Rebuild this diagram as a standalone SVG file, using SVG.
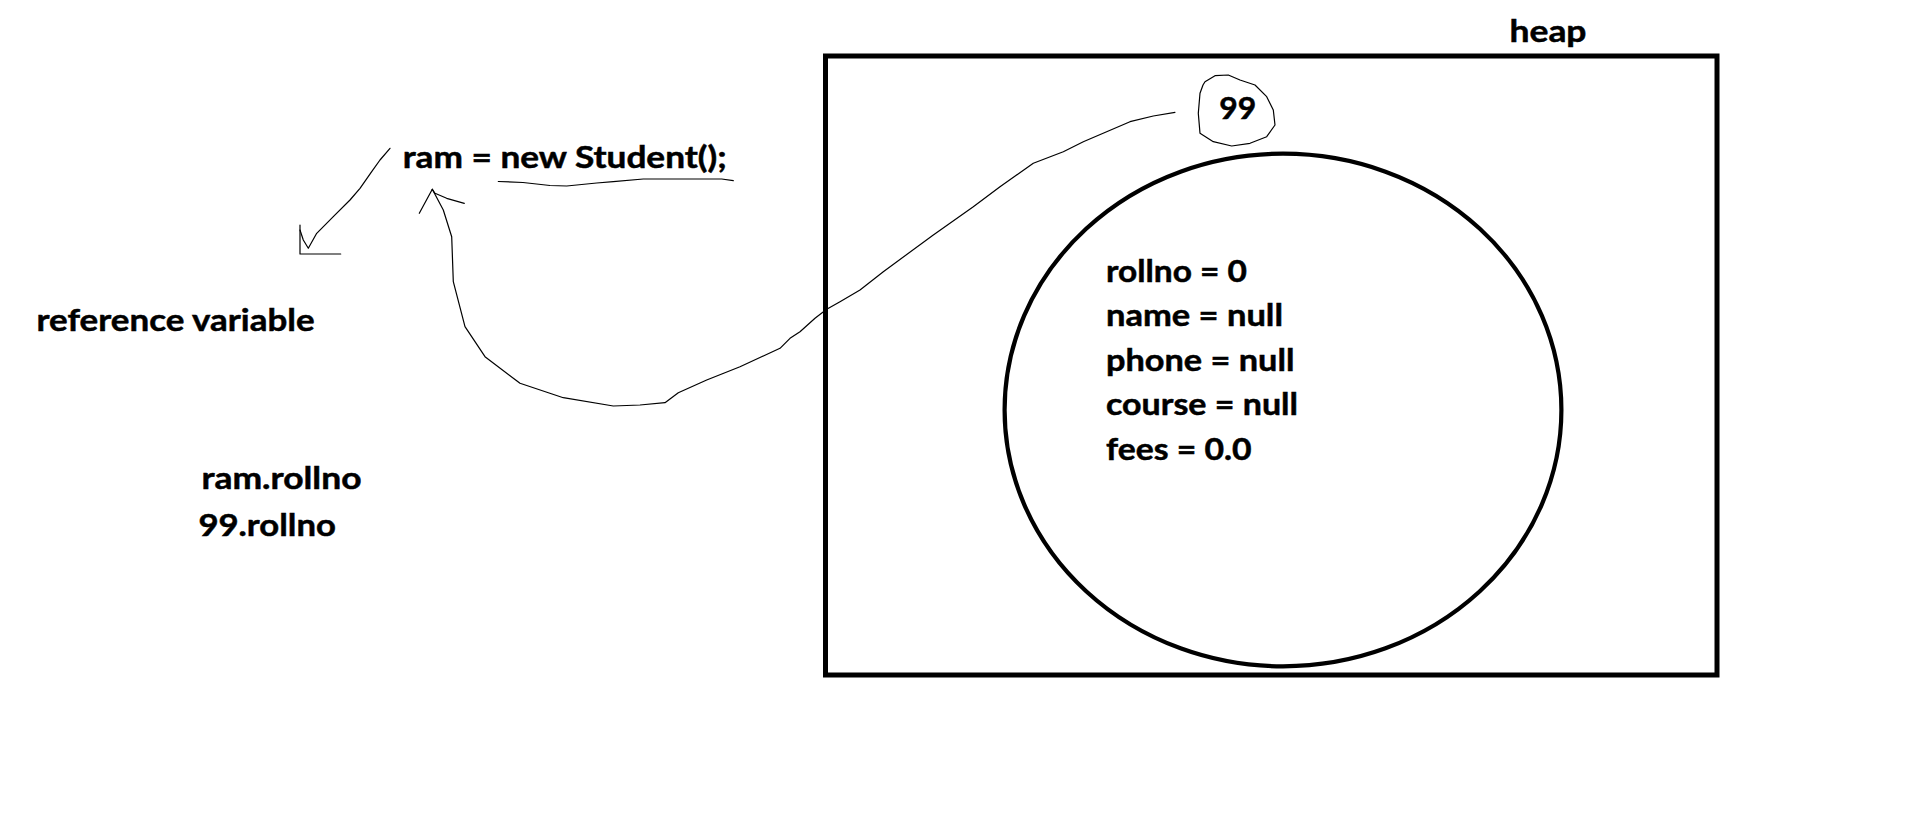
<svg xmlns="http://www.w3.org/2000/svg" width="1914" height="837" viewBox="0 0 1914 837">
<style>
.t{font-family:Lato,"Open Sans","Liberation Sans",sans-serif;font-weight:bold;font-size:31px;fill:#000;stroke:#000;stroke-width:0.5}
.thin{fill:none;stroke:#000;stroke-width:1.2;stroke-linejoin:round;stroke-linecap:round}
.thick{fill:none;stroke:#000}
</style>
<rect x="0" y="0" width="1914" height="837" fill="#fff"/>
<g id="heap">
<rect class="thick" x="825.5" y="56" width="891.5" height="619" stroke-width="5"/>
<text class="t" x="1509.5" y="41.6" textLength="77" lengthAdjust="spacingAndGlyphs">heap</text>
</g>
<g id="object">
<ellipse class="thick" cx="1283" cy="410" rx="278.4" ry="256.3" stroke-width="4.2"/>
<text class="t" x="1106" y="281.5" textLength="141" lengthAdjust="spacingAndGlyphs">rollno = 0</text>
<text class="t" x="1106" y="326" textLength="177" lengthAdjust="spacingAndGlyphs">name = null</text>
<text class="t" x="1106" y="370.5" textLength="188.5" lengthAdjust="spacingAndGlyphs">phone = null</text>
<text class="t" x="1106" y="415" textLength="192" lengthAdjust="spacingAndGlyphs">course = null</text>
<text class="t" x="1106" y="459.5" textLength="145.5" lengthAdjust="spacingAndGlyphs">fees = 0.0</text>
</g>
<g id="address">
<polygon class="thin" points="1205,81.7 1215,75.7 1228.3,75 1240,80 1255,85 1266.7,96.7 1273.3,110 1275,125 1266.7,136.7 1250,143.3 1231.7,146 1213.3,141.7 1200,133.3 1198.3,113.3 1200,93.3 1203,85"/>
<text class="t" x="1219.3" y="119.3" textLength="37" lengthAdjust="spacingAndGlyphs">99</text>
</g>
<g id="statement">
<text class="t" x="402.7" y="168.3" textLength="324" lengthAdjust="spacingAndGlyphs">ram = new Student();</text>
<polyline class="thin" points="498.3,181.5 523,182.5 550,185.5 566.7,186 596.7,183 613.3,181.7 643.3,179 721.7,179 733.3,180.7"/>
</g>
<g id="labels">
<text class="t" x="36.6" y="331" textLength="278" lengthAdjust="spacingAndGlyphs">reference variable</text>
<text class="t" x="201.5" y="489" textLength="160" lengthAdjust="spacingAndGlyphs">ram.rollno</text>
<text class="t" x="198.4" y="536" textLength="137.5" lengthAdjust="spacingAndGlyphs">99.rollno</text>
</g>
<g id="connectors">
<polyline class="thin" points="390,148.3 380,160 371.7,171.7 360,188.3 350,200 333.3,216.7 316.7,233.3 308.3,248.3 303.3,240 300,230"/>
<polyline class="thin" points="300,225 300,254 340.7,254"/>
<polyline class="thin" points="1175,112.3 1153.3,116 1130,121.7 1083.3,141.7 1063.3,151.7 1033.3,163.3 1000,186.7 973.3,206.7 933.3,235 883.3,271.7 860,290 840,301.7 826.7,309.3 815,318.3 800,331.7 790,338.3 780,348.3 740,366.7 706.7,380 678.3,392.7 665,402.7 640,405 613.3,406 563.3,397.7 520,383.3 485,356.7 465,326.7 453.3,281.7 451.7,236.7 443.3,210 432.3,189.3"/>
<polyline class="thin" points="419.3,213.3 432.3,189.3"/>
<polyline class="thin" points="432.3,189.3 435,193.3 446.7,198.3 464.3,203.3"/>
</g>
</svg>
